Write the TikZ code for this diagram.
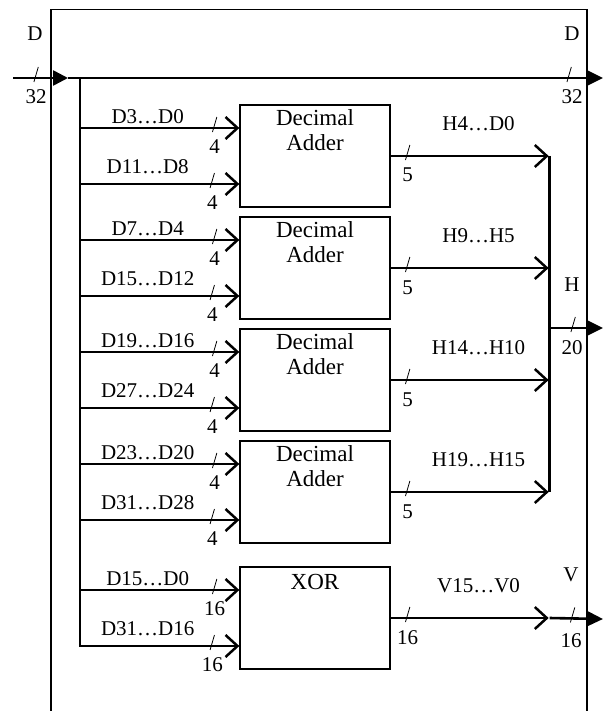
\documentclass[tikz,border=0pt]{standalone}
\usepackage{fontspec}
\setmainfont{Liberation Serif}
\usetikzlibrary{arrows.meta,calc}
\newcommand\bitslash[1]{\draw[slashline] ($(#1)+(2.2,-11)$) -- ($(#1)+(-2.2,4)$);}
\begin{document}
\begin{tikzpicture}[x=1pt,y=-1pt,
  box/.style={draw, line width=1.3pt, minimum width=150pt, minimum height=102pt, inner sep=0pt},
  boxtext/.style={font=\fontsize{23}{25}\selectfont, align=center, inner sep=0pt},
  lbl/.style={font=\fontsize{21}{24}\selectfont, inner sep=0pt},
  bus/.style={line width=2.6pt},
  branch/.style={line width=2.5pt, -{Straight Barb[length=12pt,width=22pt]}},
  outtip/.style={-{Triangle[length=16pt,width=15pt]}},
  slashline/.style={line width=0.8pt}]
\useasboundingbox (0,0) rectangle (605,711);
% outer frame
\draw[line width=1.3pt] (51,711) -- (51,9.5) -- (587,9.5) -- (587,711);
% blocks
\node[box] (A1) at (315,156) {};
\node[box] (A2) at (315,268) {};
\node[box] (A3) at (315,380) {};
\node[box] (A4) at (315,492) {};
\node[box] (X) at (315,618) {};
\foreach \n in {A1,A2,A3,A4}
  \node[boxtext] (\n-t) at ($(\n.north)+(0,26)$) {Decimal\\Adder};
\node[boxtext] (X-t) at ($(X.north)+(0,16)$) {XOR};
% main bus
\coordinate (Din) at (13,78);
\coordinate (Dtip) at (68,78);
\coordinate (Dout) at (603,78);
\coordinate (BusT) at (80,78);
\draw[bus, -{Triangle[length=15pt,width=15pt]}] (Din) -- (Dtip) coordinate[pos=0.42] (sDin);
\draw[bus, outtip] (Dtip) -- (Dout) coordinate[pos=0.9367] (sDout);
\bitslash{sDin}
\bitslash{sDout}
\node[lbl] (Dl) at (35,34) {D};
\node[lbl] (Dr) at (572,34) {D};
\node[lbl] (Dln) at (36,97) {32};
\node[lbl] (Drn) at (572,97) {32};
% input branches
\foreach \n/\la/\w in {A1/D3…D0/4, A2/D7…D4/4, A3/D19…D16/4, A4/D23…D20/4, X/D15…D0/16}{
  \coordinate (\n-i1) at ([yshift=28pt]\n.west);
  \coordinate (\n-i2) at ([yshift=-28pt]\n.west);
  \draw[branch] (BusT |- \n-i1) -- (\n-i1)
     node[lbl, pos=0.425, above=3pt] (\n-l1) {\la}
     node[lbl, pos=0.845, below=10pt] (\n-w1) {\w}
     coordinate[pos=0.845] (\n-s1);
  \bitslash{\n-s1}
  \coordinate (\n-s2) at ($(BusT |- \n-i2)!0.83!(\n-i2)$);
  \bitslash{\n-s2}
}
\foreach \n/\lb/\w in {A1/D11…D8/4, A2/D15…D12/4, A3/D27…D24/4, A4/D31…D28/4}{
  \draw[branch] (BusT |- \n-i2) -- (\n-i2)
     node[lbl, pos=0.425, above=9pt] (\n-l2) {\lb}
     node[lbl, pos=0.83, below=10pt] (\n-w2) {\w};
}
% vertical bus ending in last branch
\draw[branch, line cap=rect] (BusT) -- (BusT |- X-i2) -- (X-i2)
     node[lbl, pos=0.425, above=9pt] (X-l2) {D31…D16}
     node[lbl, pos=0.83, below=10pt] (X-w2) {16};
% outputs
\coordinate (Htop) at ($(A1.east)+(159,0)$);
\coordinate (Hbot) at ($(A4.east)+(159,0)$);
\foreach \n/\lab/\w in {A1/H4…D0/5, A2/H9…H5/5, A3/H14…H10/5, A4/H19…H15/5, X/V15…V0/16}{
  \draw[branch, shorten >=1pt] (\n.east) -- (Htop |- \n.east)
     node[lbl, pos=0.553, above=24pt] (\n-ol) {\lab}
     node[lbl, pos=0.107, below=11pt] (\n-ow) {\w}
     coordinate[pos=0.107] (\n-os);
  \bitslash{\n-os}
}
\draw[bus] (Htop) -- (Hbot);
\coordinate (Hmid) at (Htop |- 0,328);
\coordinate (Hout) at (603,328);
\draw[bus, outtip] (Hmid) -- (Hout) coordinate[pos=0.44] (sH);
\bitslash{sH}
\node[lbl] (Hl) at (572,285) {H};
\node[lbl] (Hn) at (572,348) {20};
\coordinate (Vmid) at (Htop |- X.east);
\coordinate (Vout) at (603,619);
\draw[bus, outtip] (Vmid) -- (Vout) coordinate[pos=0.43] (sV);
\bitslash{sV}
\node[lbl] (Vl) at (571,575) {V};
\node[lbl] (Vn) at (571,641) {16};
\end{tikzpicture}
\end{document}
